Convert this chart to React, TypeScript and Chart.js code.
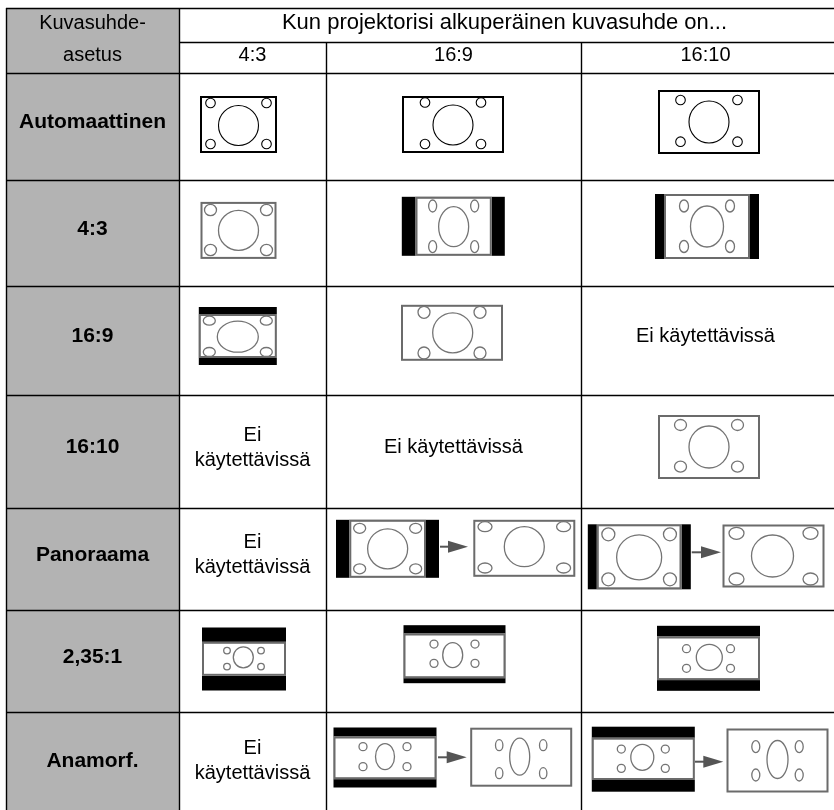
import React, { useEffect, useRef } from "react";
import { Chart, registerables } from "chart.js";

Chart.register(...registerables);

// ---------- data ----------
const cornerLabel = ["Kuvasuhde-", "asetus"];
const groupLabel = "Kun projektorisi alkuperäinen kuvasuhde on...";
const nativeRatios = ["4:3", "16:9", "16:10"];
const settings = ["Automaattinen", "4:3", "16:9", "16:10", "Panoraama", "2,35:1", "Anamorf."];
const naText = "Ei käytettävissä";
const native43 = ["auto43", "fit43", "lb169in43", "na", "na", "lb235in43", "na"];
const native169 = ["auto169", "pb43in169", "fit169", "na", "pano169", "lb235in169", "ana169"];
const native1610 = ["auto1610", "pb43in1610", "na", "fit1610", "pano1610", "lb235in1610", "ana1610"];

// ---------- layout (scale units) ----------
const COL_EDGES = [6, 179, 326, 581, 830];
const ROW_EDGES = [8, 42, 73, 180, 286, 395, 508, 610, 712, 818];
const X_MAX = 834;
const Y_MAX = 810;

type Pic = {
  kind: "pic"; dx: number; dy: number; w: number; h: number; frame: "black" | "gray";
  bars?: number[]; big: number[]; small: number[];
};
type Arrow = { kind: "arrow"; x0: number; x1: number; y: number };
type Part = Pic | Arrow;

const P = (o: Omit<Pic, "kind">): Pic => ({ kind: "pic", ...o });
const A = (x0: number, x1: number, y: number): Arrow => ({ kind: "arrow", x0, x1, y });

const ICONS: Record<string, Part[]> = {
  auto43: [P({ dx: -14, dy: -2, w: 77, h: 57, frame: "black", big: [0, 1, 20, 20], small: [28, -21.5, 19.5, 4.8, 4.8] })],
  auto169: [P({ dx: -0.5, dy: -2, w: 102, h: 57, frame: "black", big: [0, 0.5, 20, 20], small: [28, -22, 19.5, 4.8, 4.8] })],
  auto1610: [P({ dx: 3.5, dy: -4.5, w: 102, h: 64, frame: "black", big: [0, 0, 20, 21], small: [28.5, -22, 19.7, 4.8, 4.8] })],
  fit43: [P({ dx: -14, dy: -2.6, w: 76, h: 57, frame: "gray", big: [0, 0, 20, 20], small: [28, -20.4, 19.6, 6, 5.7] })],
  pb43in169: [P({ dx: -0.2, dy: -6.7, w: 103, h: 59, frame: "gray", bars: [13.7, 13, 0, 0], big: [0, 0.4, 15, 20], small: [21, -20.3, 20.4, 4, 6] })],
  pb43in1610: [P({ dx: 1.5, dy: -6.5, w: 104, h: 65, frame: "gray", bars: [9, 9, 0, 0], big: [0, 0, 16.5, 20.5], small: [23, -20.5, 20, 4.5, 6] })],
  lb169in43: [P({ dx: -14.7, dy: -4.5, w: 78, h: 58, frame: "gray", bars: [0, 0, 7, 7], big: [0, 0.7, 20.5, 15.5], small: [28.5, -15.3, 16, 6, 4.5] })],
  fit169: [P({ dx: -1.5, dy: -7.7, w: 102, h: 56, frame: "gray", big: [0.7, 0, 20, 20], small: [28, -20.5, 20.2, 6, 6] })],
  fit1610: [P({ dx: 3.5, dy: -4.5, w: 102, h: 64, frame: "gray", big: [0, 0, 20, 21], small: [28.5, -22, 19.7, 6, 5.5] })],
  pano169: [
    P({ dx: -66, dy: -10.2, w: 103, h: 58, frame: "gray", bars: [13.3, 13, 0, 0], big: [0, 0, 20, 20], small: [28, -20.5, 20, 6, 5] }),
    A(-13.5, 14.5, -12.3),
    P({ dx: 70.8, dy: -10.7, w: 102, h: 57, frame: "gray", big: [0, -1.6, 20, 20], small: [39.3, -21.6, 19.7, 7, 5] }),
  ],
  pano1610: [
    P({ dx: -66.2, dy: -2.2, w: 103, h: 65, frame: "gray", bars: [9, 9.3, 0, 0], big: [0, 0.5, 22.5, 22.5], small: [30.8, -22.5, 22.5, 6.5, 6.5] }),
    A(-13.8, 15.5, -6.7),
    P({ dx: 68, dy: -3, w: 102, h: 63, frame: "gray", big: [-1, 0, 21, 21], small: [37, -22.7, 23, 7.5, 6] }),
  ],
  lb235in43: [P({ dx: -8.5, dy: -2, w: 84, h: 63, frame: "gray", bars: [0, 0, 14.3, 14.7], big: [-0.7, -1.5, 10, 10.5], small: [17, -8.2, 7.8, 3.3, 3.3] })],
  lb235in169: [P({ dx: 1, dy: -6.8, w: 102, h: 58, frame: "gray", bars: [0, 0, 8.3, 5], big: [-1.8, -0.8, 10, 12.5], small: [20.5, -11.8, 7.5, 4, 4] })],
  lb235in1610: [P({ dx: 3, dy: -2.7, w: 103, h: 65, frame: "gray", bars: [0, 0, 10.7, 10.7], big: [0.8, -1, 13, 13], small: [22, -9.6, 10, 4, 4] })],
  ana169: [
    P({ dx: -68.5, dy: -7.5, w: 103, h: 60, frame: "gray", bars: [0, 0, 9, 8.3], big: [0, -1.2, 9.5, 13], small: [22, -11.2, 8.8, 4, 4] }),
    A(-15.5, 13.2, -7.7),
    P({ dx: 67.7, dy: -7.8, w: 102, h: 59, frame: "gray", big: [-1.5, -0.5, 10, 18.5], small: [22, -12, 16, 3.7, 5.5] }),
  ],
  ana1610: [
    P({ dx: -62.2, dy: -5.8, w: 103, h: 65, frame: "gray", bars: [0, 0, 11, 11.7], big: [-1, -1.5, 11.5, 13], small: [22, -9.8, 9.5, 4, 4] }),
    A(-10.5, 17.8, -3.3),
    P({ dx: 72, dy: -4.5, w: 102, h: 64, frame: "gray", big: [0, -1, 10.5, 19], small: [21.7, -13.8, 14.5, 4, 6] }),
  ],
};

const FONT = '"Liberation Sans", Arial, Helvetica, sans-serif';
const GRAY_FILL = "#b3b3b3";
const FRAME_GRAY = "#6b6b6b";
const ARROW_GRAY = "#555555";
const HEADER_TEXT_DY = -2;
const BODY_TEXT_DY = -4;

const tablePlugin = {
  id: "aspectTable",
  afterDraw(chart: any) {
    const ctx: CanvasRenderingContext2D = chart.ctx;
    const xs = chart.scales.x;
    const ys = chart.scales.y;
    const X = (v: number) => xs.getPixelForValue(v);
    const Y = (v: number) => ys.getPixelForValue(v);
    const kx = X(1) - X(0);
    const ky = Y(1) - Y(0);
    const colC = (i: number) => (COL_EDGES[i] + COL_EDGES[i + 1]) / 2;
    const rowC = (i: number) => (ROW_EDGES[i] + ROW_EDGES[i + 1]) / 2;

    ctx.save();
    // label column background
    ctx.fillStyle = GRAY_FILL;
    ctx.fillRect(X(COL_EDGES[0]), Y(ROW_EDGES[0]), X(COL_EDGES[1]) - X(COL_EDGES[0]), Y(ROW_EDGES[ROW_EDGES.length - 1]) - Y(ROW_EDGES[0]));

    const text = (s: string, x: number, y: number, size: number, bold = false) => {
      ctx.font = `${bold ? "bold " : ""}${size}px ${FONT}`;
      ctx.fillStyle = "#000";
      ctx.textAlign = "center";
      ctx.textBaseline = "middle";
      ctx.fillText(s, X(x), Y(y));
    };

    // header
    text(cornerLabel[0], colC(0), rowC(0) + HEADER_TEXT_DY, 20);
    text(cornerLabel[1], colC(0), rowC(1) + HEADER_TEXT_DY, 20);
    text(groupLabel, (COL_EDGES[1] + COL_EDGES[4]) / 2, rowC(0) + HEADER_TEXT_DY, 22);
    nativeRatios.forEach((r, i) => text(r, colC(i + 1), rowC(1) + HEADER_TEXT_DY, 20));

    // row labels
    settings.forEach((s, i) => text(s, colC(0), rowC(i + 2) + BODY_TEXT_DY, 21, true));

    const drawPic = (p: Pic, cx: number, cy: number) => {
      const ox = X(cx + p.dx);
      const oy = Y(cy + p.dy);
      const pw = p.w * kx, ph = p.h * ky;
      const left = ox - pw / 2, top = oy - ph / 2;
      const b = p.bars || [0, 0, 0, 0];
      if (p.bars) {
        ctx.fillStyle = "#000";
        ctx.fillRect(left, top, pw, ph);
      }
      const il = left + b[0] * kx, it = top + b[2] * ky;
      const iw = pw - (b[0] + b[1]) * kx, ih = ph - (b[2] + b[3]) * ky;
      ctx.fillStyle = "#fff";
      ctx.fillRect(il, it, iw, ih);
      const col = p.frame === "black" ? "#000" : FRAME_GRAY;
      ctx.strokeStyle = col;
      ctx.lineWidth = 2;
      ctx.strokeRect(il + 1, it + 1, iw - 2, ih - 2);
      const icx = il + iw / 2, icy = it + ih / 2;
      ctx.lineWidth = p.frame === "black" ? 1.1 : 1.3;
      ctx.strokeStyle = p.frame === "black" ? "#000" : "#747474";
      const ell = (x: number, y: number, rx: number, ry: number) => {
        ctx.beginPath();
        ctx.ellipse(icx + x * kx, icy + y * ky, rx * kx, ry * ky, 0, 0, Math.PI * 2);
        ctx.stroke();
      };
      ell(p.big[0], p.big[1], p.big[2], p.big[3]);
      const [sx, st, sb, srx, sry] = p.small;
      ell(-sx, st, srx, sry);
      ell(sx, st, srx, sry);
      ell(-sx, sb, srx, sry);
      ell(sx, sb, srx, sry);
    };

    const drawArrow = (a: Arrow, cx: number, cy: number) => {
      const x0 = X(cx + a.x0), x1 = X(cx + a.x1), y = Y(cy + a.y);
      ctx.strokeStyle = ARROW_GRAY;
      ctx.fillStyle = ARROW_GRAY;
      ctx.lineWidth = 2;
      ctx.beginPath();
      ctx.moveTo(x0, y);
      ctx.lineTo(x1 - 10, y);
      ctx.stroke();
      ctx.beginPath();
      ctx.moveTo(x1, y);
      ctx.lineTo(x1 - 20 * kx, y - 6 * ky);
      ctx.lineTo(x1 - 20 * kx, y + 6 * ky);
      ctx.closePath();
      ctx.fill();
    };

    const columns = [native43, native169, native1610];
    columns.forEach((colCells, ci) => {
      const cx = colC(ci + 1);
      const cellW = COL_EDGES[ci + 2] - COL_EDGES[ci + 1];
      colCells.forEach((kind, ri) => {
        const cy = rowC(ri + 2);
        if (kind === "na") {
          ctx.font = `20px ${FONT}`;
          const w = ctx.measureText(naText).width;
          if (w > (cellW - 20) * kx) {
            const parts = naText.split(" ");
            text(parts[0], cx, cy + BODY_TEXT_DY - 12.5, 20);
            text(parts.slice(1).join(" "), cx, cy + BODY_TEXT_DY + 12.5, 20);
          } else {
            text(naText, cx, cy + BODY_TEXT_DY, 20);
          }
          return;
        }
        (ICONS[kind] || []).forEach((part) => {
          if (part.kind === "pic") drawPic(part, cx, cy);
          else drawArrow(part, cx, cy);
        });
      });
    });

    // grid lines
    ctx.strokeStyle = "#000";
    ctx.lineWidth = 1.4;
    const hline = (y: number, x0: number, x1: number) => {
      ctx.beginPath();
      ctx.moveTo(X(x0), Math.round(Y(y)) + 0.5);
      ctx.lineTo(X(x1), Math.round(Y(y)) + 0.5);
      ctx.stroke();
    };
    const vline = (x: number, y0: number, y1: number) => {
      ctx.beginPath();
      ctx.moveTo(Math.round(X(x)) + 0.5, Y(y0));
      ctx.lineTo(Math.round(X(x)) + 0.5, Y(y1));
      ctx.stroke();
    };
    const yEnd = ROW_EDGES[ROW_EDGES.length - 1];
    ROW_EDGES.forEach((y, i) => {
      if (i === ROW_EDGES.length - 1) return;
      hline(y, i === 1 ? COL_EDGES[1] : COL_EDGES[0], X_MAX);
    });
    vline(COL_EDGES[0], ROW_EDGES[0], yEnd);
    vline(COL_EDGES[1], ROW_EDGES[0], yEnd);
    vline(COL_EDGES[2], ROW_EDGES[1], yEnd);
    vline(COL_EDGES[3], ROW_EDGES[1], yEnd);
    ctx.restore();
  },
};

export default function App() {
  const ref = useRef<HTMLCanvasElement | null>(null);
  useEffect(() => {
    if (!ref.current) return;
    const points: { x: number; y: number }[] = [];
    settings.forEach((_, ri) => {
      nativeRatios.forEach((_, ci) => {
        points.push({
          x: (COL_EDGES[ci + 1] + COL_EDGES[ci + 2]) / 2,
          y: (ROW_EDGES[ri + 2] + ROW_EDGES[ri + 3]) / 2,
        });
      });
    });
    const chart = new Chart(ref.current, {
      type: "scatter",
      data: { datasets: [{ data: points, pointRadius: 0, pointHoverRadius: 0, showLine: false }] },
      options: {
        responsive: false,
        maintainAspectRatio: false,
        animation: false,
        events: [],
        layout: { padding: 0 },
        plugins: { legend: { display: false }, tooltip: { enabled: false }, title: { display: false } },
        scales: {
          x: { type: "linear", min: 0, max: X_MAX, display: false },
          y: { type: "linear", min: 0, max: Y_MAX, reverse: true, display: false },
        },
      },
      plugins: [tablePlugin],
    });
    return () => chart.destroy();
  }, []);
  return (
    <div style={{ position: "absolute", left: 0, top: 0, width: X_MAX, height: Y_MAX, background: "#fff" }}>
      <canvas ref={ref} width={X_MAX} height={Y_MAX} style={{ display: "block" }} />
    </div>
  );
}
